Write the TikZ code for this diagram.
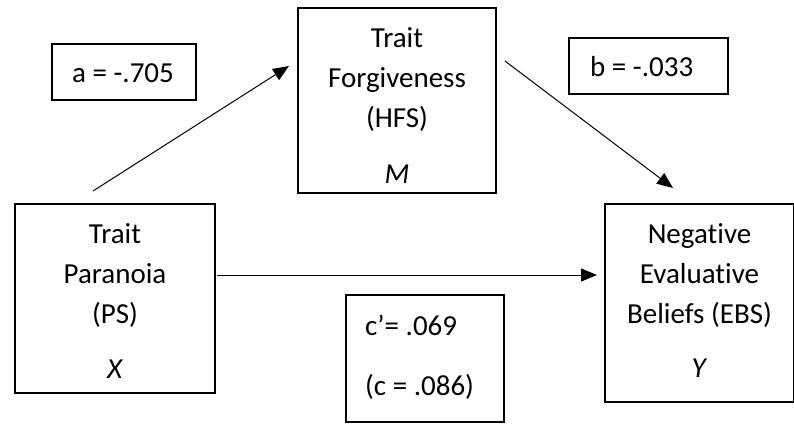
\documentclass[tikz,border=0pt]{standalone}
\usepackage{fontspec}
\setmainfont{Carlito}[Ligatures=NoCommon]
\usetikzlibrary{arrows.meta}
\begin{document}
\begin{tikzpicture}[x=1pt,y=-1pt,
  box/.style={draw, line width=2pt, inner sep=0pt, anchor=north west},
  txt/.style={font=\fontsize{29}{40}\selectfont, align=center, inner sep=0pt, anchor=base},
  ltxt/.style={font=\fontsize{29}{40}\selectfont, align=left, inner sep=0pt, anchor=base west},
  arr/.style={line width=1pt, -{Triangle[length=16pt,width=13pt]}}]
\useasboundingbox (0,0) rectangle (794,423);
% boxes
\node[box, minimum width=200pt, minimum height=189pt] (X) at (14,203) {};
\node[box, minimum width=198pt, minimum height=185pt] (M) at (297,7) {};
\node[box, minimum width=189pt, minimum height=198pt] (Y) at (604,203) {};
\node[box, minimum width=144pt, minimum height=56pt] (A) at (51,43) {};
\node[box, minimum width=159pt, minimum height=56pt] (B) at (568,37) {};
\node[box, minimum width=158pt, minimum height=127pt] (C) at (345,294) {};
% texts (base anchor = last line's baseline)
\node[txt] (Xt) at ([yshift=-175pt]X.north) {Trait\\Paranoia\\(PS)\\[15pt]\textit{X}};
\node[txt] (Mt) at ([yshift=-176pt]M.north) {Trait\\Forgiveness\\(HFS)\\[16pt]\textit{M}};
\node[txt] (Yt) at ([yshift=-174pt]Y.north) {Negative\\Evaluative\\Beliefs (EBS)\\[14pt]\textit{Y}};
\node[txt] (At) at (123,82) {a = -.705};
\node[ltxt] (Bt) at (590,76) {b = -.033};
\node[ltxt] (Ct) at (365,395) {c’= .069\\[20pt](c = .086)};
% connectors
\coordinate (a1) at (93,191);  \coordinate (a2) at (289,66);
\coordinate (b1) at (505,61);  \coordinate (b2) at (673,188);
\coordinate (c1) at (217,275); \coordinate (c2) at (597,275);
\draw[arr] (a1) -- (a2);
\draw[arr] (b1) -- (b2);
\draw[arr] (c1) -- (c2);
\end{tikzpicture}
\end{document}
